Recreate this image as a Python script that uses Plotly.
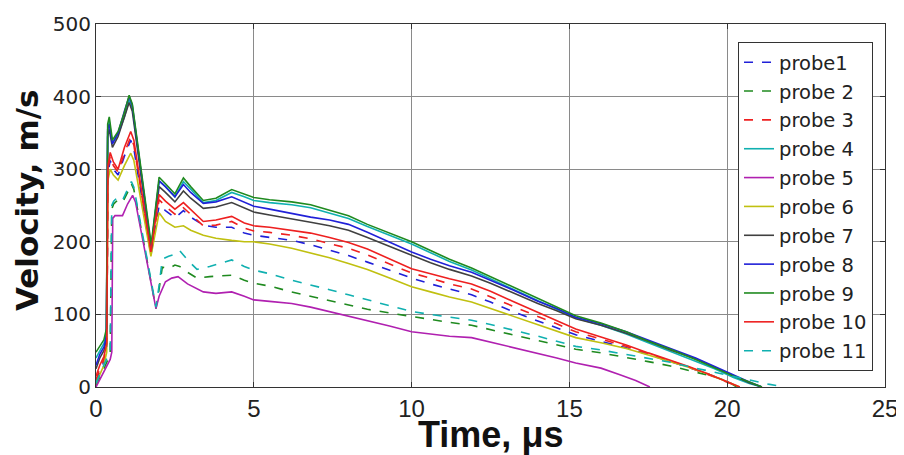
import plotly.graph_objects as go

# ---------------- data ----------------
names = ["probe1", "probe 2", "probe 3", "probe 4", "probe 5", "probe 6",
         "probe 7", "probe 8", "probe 9", "probe 10", "probe 11"]

t_top = [0, 0.12, 0.25, 0.33, 0.37, 0.42, 0.52, 0.7, 0.9, 1.05, 1.15, 1.75, 1.85, 2.0, 2.2, 2.5,
         2.77, 3.0, 3.4, 3.8, 4.3, 4.7, 5.0, 5.5, 6.2, 6.8, 7.4, 8.0, 8.6, 9.3, 10.0, 10.6, 11.2,
         11.9, 12.5, 13.2, 14.0, 14.6, 15.2, 16.0, 16.8, 17.5, 18.2, 19.0, 19.6, 20.2, 20.7, 21.1]
t_mid = [0, 0.12, 0.25, 0.34, 0.38, 0.45, 0.55, 0.7, 0.9, 1.1, 1.2, 1.74, 1.85, 2.0, 2.2, 2.5,
         2.77, 3.0, 3.4, 3.8, 4.3, 4.7, 5.0, 5.5, 6.2, 6.8, 7.4, 8.0, 8.6, 9.3, 10.0, 10.6, 11.2,
         11.9, 12.5, 13.2, 14.0, 14.6, 15.2, 16.0, 16.8, 17.5, 18.2, 18.8, 19.4, 19.9, 20.4]
t_low = [0, 0.15, 0.3, 0.45, 0.5, 0.56, 0.7, 0.85, 1.0, 1.12, 1.2, 1.9, 2.0, 2.1, 2.3, 2.5, 2.65,
         2.9, 3.2, 3.6, 4.3, 4.7, 5.0, 5.5, 6.2, 6.8, 7.4, 8.0, 8.6, 9.3, 10.0, 10.6, 11.2, 11.9,
         12.5, 13.2, 14.0, 14.6, 15.2, 16.0, 16.8, 17.5, 18.2, 19.0, 19.6, 20.2, 20.8, 21.3, 21.8]
t_p2 = [0, 0.15, 0.3, 0.45, 0.5, 0.56, 0.7, 0.85, 1.0, 1.12, 1.2, 1.9, 2.0, 2.1, 2.3, 2.5, 2.65,
        2.9, 3.2, 3.6, 4.3, 4.7, 5.0, 5.5, 6.2, 6.8, 7.4, 8.0, 8.6, 9.3, 10.0, 10.6, 11.2, 11.9,
        12.5, 13.2, 14.0, 14.6, 15.2, 16.0, 16.8, 17.5, 18.2, 19.0, 19.6, 20.0, 20.3]
t_p5 = [0, 0.15, 0.3, 0.45, 0.5, 0.53, 0.6, 0.84, 1.0, 1.16, 1.25, 1.9, 2.0, 2.2, 2.4, 2.6, 2.9,
        3.4, 3.8, 4.3, 4.7, 5.0, 5.5, 6.2, 6.8, 7.4, 8.0, 8.6, 9.3, 10.0, 10.6, 11.2, 11.9, 12.5,
        13.2, 14.0, 14.6, 15.2, 16.0, 16.6, 17.1, 17.55]

v_p1 = [8, 22, 35, 52, 295, 312, 300, 292, 318, 340, 328, 182, 210, 250, 243, 233, 243, 234, 223,
        220, 220, 212, 209, 206, 202, 196, 189, 181, 172, 161, 150, 142, 135, 127, 117, 104, 91,
        82, 72, 63, 54, 45, 35, 27, 18, 9, 0]
v_p2 = [3, 15, 30, 45, 245, 252, 258, 255, 268, 280, 272, 108, 135, 165, 163, 168, 166, 158, 150,
        152, 154, 147, 143, 139, 131, 125, 119, 113, 107, 102, 97, 93, 89, 85, 79, 72, 64, 58, 52,
        47, 41, 35, 29, 21, 14, 8, 0]
v_p3 = [10, 25, 38, 55, 300, 318, 305, 296, 322, 345, 333, 184, 215, 258, 249, 238, 247, 238, 222,
        223, 228, 219, 215, 213, 209, 204, 198, 191, 182, 170, 157, 150, 142, 135, 124, 111, 97,
        87, 76, 66, 56, 46, 36, 27, 17, 8, 0]
v_p4 = [40, 50, 60, 72, 352, 366, 336, 348, 372, 396, 385, 192, 230, 284, 276, 262, 283, 272, 254,
        257, 268, 262, 257, 254, 251, 247, 240, 232, 221, 209, 197, 185, 173, 161, 149, 135, 118,
        107, 95, 85, 73, 61, 49, 36, 25, 13, 5, 0]
v_p5 = [0, 12, 25, 38, 48, 232, 236, 236, 252, 264, 255, 108, 125, 145, 150, 152, 142, 131, 129,
        131, 125, 120, 118, 115, 110, 104, 98, 92, 84, 76, 73, 70, 68, 62, 54, 46, 40, 33, 26, 17,
        9, 0]
v_p6 = [5, 18, 30, 48, 285, 300, 292, 285, 305, 322, 312, 180, 205, 240, 228, 220, 222, 216, 209,
        205, 202, 200, 200, 197, 191, 185, 178, 170, 162, 150, 138, 131, 124, 117, 108, 97, 85, 77,
        68, 61, 53, 44, 35, 27, 18, 9, 0]
v_p7 = [25, 40, 50, 65, 345, 355, 330, 345, 372, 392, 380, 188, 225, 276, 268, 255, 270, 260, 246,
        248, 254, 246, 241, 237, 232, 227, 222, 216, 206, 194, 181, 171, 162, 153, 143, 130, 115,
        105, 94, 85, 74, 63, 51, 39, 27, 15, 6, 0]
v_p8 = [30, 45, 55, 70, 355, 362, 335, 350, 380, 400, 388, 190, 230, 284, 276, 262, 279, 268, 253,
        255, 262, 254, 249, 245, 239, 234, 230, 224, 213, 200, 186, 176, 167, 158, 147, 134, 118,
        108, 96, 87, 76, 65, 53, 40, 28, 16, 7, 0]
v_p9 = [48, 57, 65, 80, 362, 372, 340, 352, 378, 402, 390, 196, 235, 289, 280, 266, 288, 276, 257,
        260, 272, 266, 261, 258, 255, 251, 244, 236, 224, 212, 200, 188, 176, 164, 152, 138, 121,
        110, 98, 88, 76, 63, 52, 38, 27, 15, 7, 0]
v_p10 = [15, 30, 42, 60, 305, 323, 310, 300, 330, 352, 340, 186, 220, 265, 256, 245, 254, 245, 228,
         230, 235, 226, 222, 220, 216, 212, 206, 199, 190, 177, 163, 156, 149, 142, 132, 118, 103,
         92, 80, 69, 58, 47, 37, 28, 18, 9, 0]
v_p11 = [5, 20, 35, 50, 250, 256, 262, 258, 272, 283, 275, 110, 140, 176, 180, 183, 188, 175, 162,
         166, 175, 166, 161, 156, 147, 141, 134, 127, 120, 112, 104, 100, 96, 92, 86, 79, 70, 63,
         56, 51, 45, 39, 34, 26, 20, 15, 9, 4, 0]

times = [t_mid, t_p2, t_mid, t_top, t_p5, t_mid, t_top, t_top, t_top, t_mid, t_low]
values = [v_p1, v_p2, v_p3, v_p4, v_p5, v_p6, v_p7, v_p8, v_p9, v_p10, v_p11]

x_ticks = [0, 5, 10, 15, 20, 25]
y_ticks = [0, 100, 200, 300, 400, 500]
x_title = "Time, μs"
y_title = "Velocity, m/s"

# ---------------- styles ----------------
colors = ["#2020d8", "#1f8a1f", "#ee2020", "#10b0b0", "#b020b0", "#c0c010",
          "#404040", "#2020d8", "#1f8a1f", "#ee2020", "#10b0b0"]
dashes = ["dash", "dash", "dash", "solid", "solid", "solid",
          "solid", "solid", "solid", "solid", "dash"]

fig = go.Figure()
for i, n in enumerate(names):
    fig.add_trace(go.Scatter(
        x=times[i], y=values[i], mode="lines", name=n, legendgroup=n,
        line=dict(color=colors[i], width=1.6, dash=dashes[i]),
    ))

# the page body has an 8px margin, so the figure is sized/positioned to compensate
fig.update_layout(
    width=896, height=447,
    margin=dict(l=88, r=19, t=16, b=68, autoexpand=False),
    paper_bgcolor="white", plot_bgcolor="white",
    showlegend=True,
    legend=dict(
        x=0.8137, y=0.9504, xanchor="left", yanchor="top",
        bgcolor="white", bordercolor="#333333", borderwidth=1,
        font=dict(family="DejaVu Sans", size=19.5, color="#222222"),
        itemwidth=30, tracegroupgap=0.5,
    ),
    annotations=[
        dict(text=x_title, xref="paper", yref="paper", x=0.5, y=-0.0689,
             xanchor="center", yanchor="top", showarrow=False,
             font=dict(family="Liberation Sans", size=36, color="#111111", weight="bold")),
        dict(text=y_title, xref="paper", yref="paper", x=-0.0875, y=0.515,
             xanchor="center", yanchor="middle", showarrow=False, textangle=-90,
             font=dict(family="DejaVu Sans", size=31, color="#111111", weight="bold")),
    ],
)
fig.update_xaxes(
    range=[0, 25], tickvals=x_ticks, ticktext=[str(v) for v in x_ticks],
    automargin=False,
    showgrid=True, gridcolor="#8a8a8a", gridwidth=1,
    showline=True, linecolor="#333333", linewidth=1, mirror="ticks",
    ticks="inside", ticklen=5, tickcolor="#333333",
    tickfont=dict(family="Liberation Sans", size=24, color="#222222"),
    zeroline=False,
)
fig.update_yaxes(
    range=[0, 500], tickvals=y_ticks, ticktext=[str(v) for v in y_ticks],
    automargin=False,
    showgrid=True, gridcolor="#8a8a8a", gridwidth=1,
    showline=True, linecolor="#333333", linewidth=1, mirror="ticks",
    ticks="inside", ticklen=5, tickcolor="#333333",
    tickfont=dict(family="DejaVu Sans", size=20, color="#222222"),
    zeroline=False,
)

fig.write_html("out.html")
